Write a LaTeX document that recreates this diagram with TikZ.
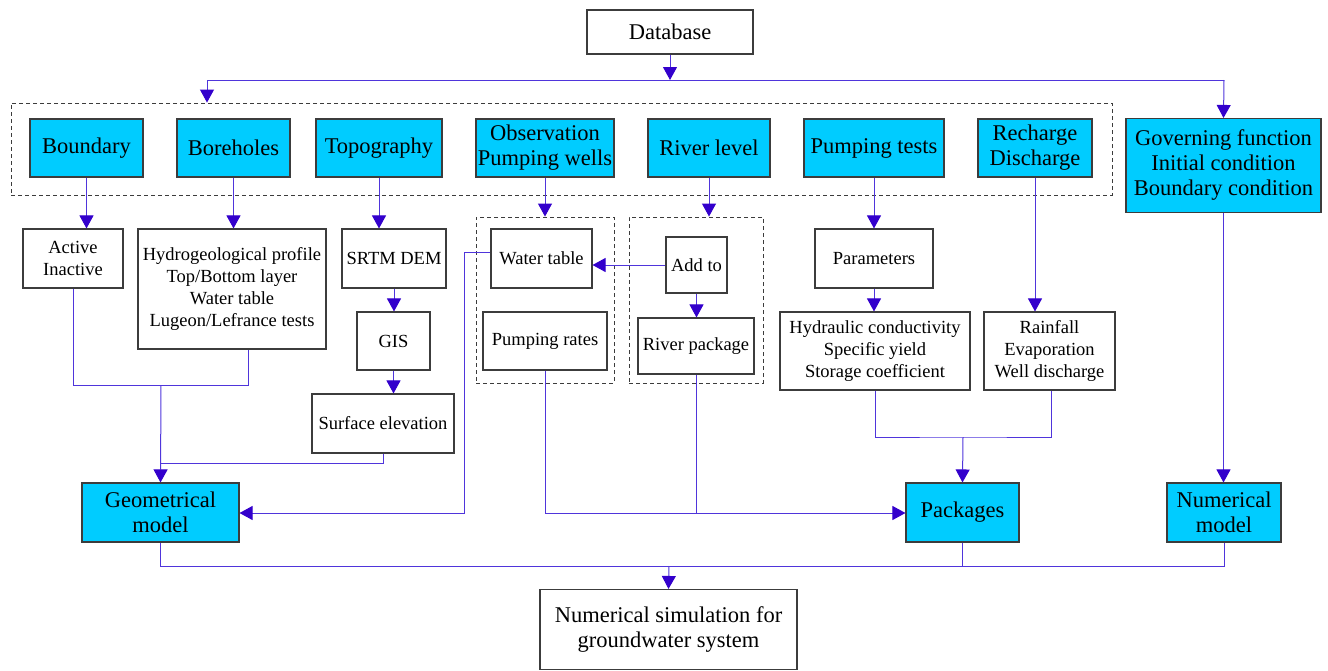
\documentclass[tikz,border=0pt]{standalone}
\usepackage{fontspec}
\setmainfont{Liberation Serif}
\newfontfamily\tnr{Liberation Serif}
\usetikzlibrary{arrows.meta}
\definecolor{cyanfill}{HTML}{00CCFF}
\definecolor{boxline}{HTML}{3C3C3C}
\definecolor{linec}{HTML}{4F35DB}
\definecolor{arrc}{HTML}{3300CC}
\newcommand{\bigf}{\tnr\fontsize{22.5}{25}\selectfont}
\newcommand{\smallf}{\tnr\fontsize{18.5}{22}\selectfont}
\tikzset{
  basebox/.style={draw=boxline, line width=1.1pt, inner sep=0pt, align=center, font=\smallf},
  cbox/.style={basebox, fill=cyanfill, font=\bigf},
  wbox/.style={basebox, fill=white},
  bwbox/.style={basebox, fill=white, font=\bigf},
  dbox/.style={draw=boxline, line width=0.9pt, dash pattern=on 4pt off 3pt, inner sep=0pt},
  conn/.style={draw=linec, line width=1pt},
  arr/.style={-{Triangle[length=13pt,width=14pt,color=arrc]}},
}
\begin{document}
\begin{tikzpicture}[x=1pt,y=-1pt]
\useasboundingbox (0,0) rectangle (1328,670);
% top
\node[bwbox, minimum width=166pt, minimum height=44pt] (db) at (670,32) {Database};
\node[dbox, minimum width=1101pt, minimum height=92pt] (grp) at (561.5,149) {};
% cyan row
\node[cbox, minimum width=113pt, minimum height=58pt] (bnd) at (86.5,148) {Boundary};
\node[cbox, minimum width=113pt, minimum height=58pt] (bor) at (233.5,148) {Boreholes};
\node[cbox, minimum width=126pt, minimum height=58pt] (top) at (379,148) {Topography};
\node[cbox, minimum width=138pt, minimum height=58pt] (obs) at (545,148) {Observation\\Pumping wells};
\node[cbox, minimum width=122pt, minimum height=58pt] (riv) at (709,148) {River level};
\node[cbox, minimum width=140pt, minimum height=58pt] (pmt) at (874,148) {Pumping tests};
\node[cbox, minimum width=114pt, minimum height=58pt] (rec) at (1035,148) {Recharge\\Discharge};
\node[cbox, minimum width=195pt, minimum height=94pt] (gov) at (1223.5,165.5) {Governing function\\Initial condition\\Boundary condition};
% second row
\node[wbox, minimum width=100pt, minimum height=59pt] (act) at (73,258.5) {Active\\Inactive};
\node[wbox, minimum width=188pt, minimum height=120pt] (hyd) at (232,289) {Hydrogeological profile\\Top/Bottom layer\\Water table\\Lugeon/Lefrance tests};
\node[wbox, minimum width=104pt, minimum height=59pt] (srtm) at (394,258.5) {SRTM DEM};
\node[wbox, minimum width=73pt, minimum height=58pt] (gis) at (393.5,341) {GIS};
\node[wbox, minimum width=142pt, minimum height=59pt] (surf) at (383,423.5) {Surface elevation};
\node[dbox, minimum width=138pt, minimum height=166pt] (grpa) at (545,300) {};
\node[wbox, minimum width=101pt, minimum height=59pt] (wt) at (541.5,258.5) {Water table};
\node[wbox, minimum width=124pt, minimum height=58pt] (pr) at (545,341) {Pumping rates};
\node[dbox, minimum width=134pt, minimum height=166pt] (grpb) at (696,300) {};
\node[wbox, minimum width=61pt, minimum height=56pt] (add) at (696.5,265) {Add to};
\node[wbox, minimum width=116pt, minimum height=56pt] (rp) at (696,346) {River package};
\node[wbox, minimum width=118pt, minimum height=59pt] (par) at (874,258.5) {Parameters};
\node[wbox, minimum width=190pt, minimum height=78pt] (hc) at (875,351) {Hydraulic conductivity\\Specific yield\\Storage coefficient};
\node[wbox, minimum width=131pt, minimum height=78pt] (rain) at (1049.5,351) {Rainfall\\Evaporation\\Well discharge};
% bottom
\node[cbox, minimum width=157pt, minimum height=59pt] (geom) at (160.5,512.5) {Geometrical\\model};
\node[cbox, minimum width=113pt, minimum height=59pt] (pkg) at (962.5,512.5) {Packages};
\node[cbox, minimum width=114pt, minimum height=59pt] (nm) at (1224,512.5) {Numerical\\model};
\node[bwbox, minimum width=257pt, minimum height=80pt] (sim) at (668.5,629.5) {Numerical simulation for\\groundwater system};
% connectors: top distribution
\coordinate (tc) at (670,80);
\coordinate (tl) at (207,80);
\coordinate (tr) at (1224,80);
\draw[conn] (tl) -- (tr);
\draw[conn,arr] (db.south) -- (tc);
\draw[conn,arr] (tl) -- (tl |- grp.north);
\draw[conn,arr] (tr) -- (gov.north);
% cyan to second row
\draw[conn,arr] (bnd.south) -- (bnd.south |- act.north);
\draw[conn,arr] (bor.south) -- (bor.south |- hyd.north);
\draw[conn,arr] (top.south) -- (top.south |- srtm.north);
\draw[conn,arr] (obs.south) -- (obs.south |- grpa.north);
\draw[conn,arr] (riv.south) -- (riv.south |- grpb.north);
\draw[conn,arr] (pmt.south) -- (pmt.south |- par.north);
\draw[conn,arr] (rec.south) -- (rec.south |- rain.north);
% topography chain
\draw[conn,arr] (srtm.south) -- (srtm.south |- gis.north);
\draw[conn,arr] (gis.south) -- (gis.south |- surf.north);
% geometrical model inputs
\coordinate (j1) at (161,385);
\coordinate (j2) at (161,463);
\draw[conn] (act.south) |- ([xshift=16pt]hyd.south |- j1) -- ([xshift=16pt]hyd.south);
\draw[conn,arr] (j1) -- (geom.north);
\draw[conn] (surf.south) |- (j2);
\coordinate (w1) at (464,513);
\draw[conn,arr] ([yshift=6.5pt]wt.west) -| (w1) -- (w1 -| geom.east);
% river
\draw[conn,arr] (add.west) -- (add.west -| wt.east);
\draw[conn,arr] (add.south) -- (add.south |- rp.north);
% packages inputs
\coordinate (p1) at (545,513);
\draw[conn,arr] (pr.south) -- (p1) -- (p1 -| pkg.west);
\draw[conn] (rp.south) -- (rp.south |- p1);
\draw[conn,arr] (par.south) -- (par.south |- hc.north);
\coordinate (j3) at (963,437);
\draw[conn] (hc.south) |- (j3) -| ([xshift=1.5pt]rain.south);
\draw[conn,arr] (j3) -- (pkg.north);
\draw[conn,arr] (gov.south) -- (gov.south |- nm.north);
% final
\coordinate (j4) at (669,566);
\draw[conn] (geom.south) |- (nm.south |- j4) -- (nm.south);
\draw[conn] (pkg.south) -- (pkg.south |- j4);
\draw[conn,arr] (j4) -- (sim.north);
\end{tikzpicture}
\end{document}
